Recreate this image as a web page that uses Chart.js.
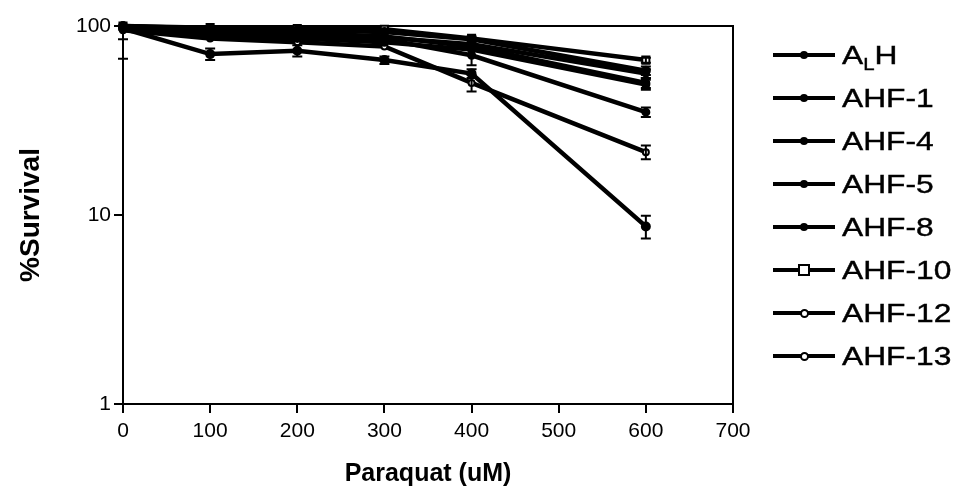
<!DOCTYPE html>
<html lang="en">
<head>
    <meta charset="UTF-8">
    <title>Paraquat survival</title>
    <script src="https://cdn.jsdelivr.net/npm/chart.js"></script>
    <style>
        body {
            margin: 0;
            background: #ffffff;
            font-family: "Liberation Sans", Arial, sans-serif;
        }

        #wrap {
            position: relative;
            width: 960px;
            height: 497px;
        }

        /* legend on the right */
        #legend {
            position: absolute;
            left: 773px;
            top: 37px;
        }

        .row {
            position: relative;
            height: 43px;
            line-height: 36px;
            font-size: 25px;
            color: #000;
        }

        .row .seg {
            position: absolute;
            left: 0;
            top: 16px;
            width: 62px;
            height: 4px;
            background: #000;
        }

        .row .mk {
            position: absolute;
            left: 27px;
            top: 14px;
            width: 8px;
            height: 8px;
            border-radius: 50%;
            background: #000;
        }

        .row .mk.sq {
            left: 25px;
            top: 12px;
            width: 8px;
            height: 8px;
            border-radius: 0;
            background: #fff;
            border: 2px solid #000;
        }

        .row .mk.oc {
            left: 27px;
            top: 14px;
            width: 5px;
            height: 5px;
            background: #fff;
            border: 2px solid #000;
        }

        .row .txt {
            position: absolute;
            left: 69px;
            top: 0;
            white-space: nowrap;
            transform: scaleX(1.27);
            transform-origin: left center;
            -webkit-text-stroke: 0.4px #000;
        }

        sub {
            font-size: 16px;
            vertical-align: -6px;
        }
    </style>
</head>
<body>
<div id="wrap">
    <canvas id="chart" width="960" height="497"></canvas>
    <div id="legend"></div>
</div>

<script>
    // paraquat concentrations (uM)
    const doses = [0, 100, 200, 300, 400, 600];
    const yTicks = [1, 10, 100];

    const seriesNames = ['A<sub>L</sub>H', 'AHF-1', 'AHF-4', 'AHF-5', 'AHF-8', 'AHF-10', 'AHF-12', 'AHF-13'];

    // % survival
    const alh   = [100, 97, 95, 93, 85, 58];
    const ahf1  = [100, 95, 92, 88, 78, 50];
    const ahf4  = [98, 90, 88, 85, 70, 35];
    const ahf5  = [97, 88, 86, 82, 75, 49];
    const ahf8  = [97, 71, 74, 66, 56, 8.7];
    const ahf10 = [100, 98, 97, 96, 86, 66];
    const ahf12 = [97, 92, 90, 87, 80, 56];
    const ahf13 = [95, 86, 82, 78, 50, 21.5];

    // error bars (+/-)
    const alhErr   = [0, 0, 0, 0, 3, 3];
    const ahf1Err  = [0, 0, 0, 0, 0, 3];
    const ahf4Err  = [0, 0, 0, 0, 8, 2];
    const ahf5Err  = [12, 0, 0, 0, 0, 3];
    const ahf8Err  = [0, 5, 5, 3, 3, 1.2];
    const ahf10Err = [0, 0, 0, 0, 0, 2];
    const ahf12Err = [0, 0, 0, 0, 0, 3];
    const ahf13Err = [28, 0, 0, 0, 5, 1.8];

    const values = [alh, ahf1, ahf4, ahf5, ahf8, ahf10, ahf12, ahf13];
    const errors = [alhErr, ahf1Err, ahf4Err, ahf5Err, ahf8Err, ahf10Err, ahf12Err, ahf13Err];
    const markers = ['circle', 'circle', 'circle', 'circle', 'circle', 'rect', 'circle', 'circle'];
    const markerFill = ['#000', '#000', '#000', '#000', '#000', '#fff', '#fff', '#fff'];
    const markerSize = [4, 3.5, 3.5, 3.5, 4, 5, 3, 3];

    const datasets = values.map((vals, i) => ({
        label: seriesNames[i],
        data: vals.map((v, j) => ({ x: doses[j], y: v })),
        errors: errors[i],
        borderColor: '#000',
        borderWidth: 4.5,
        pointStyle: markers[i],
        pointRadius: markerSize[i],
        pointBackgroundColor: markerFill[i],
        pointBorderColor: '#000',
        pointBorderWidth: 2,
        clip: false,
        tension: 0
    }));

    // error bars drawn with the chart's own scales
    const errorBars = {
        id: 'errorBars',
        afterDatasetsDraw(chart) {
            const ctx = chart.ctx;
            const xs = chart.scales.x, ys = chart.scales.y;
            const top = chart.chartArea.top;
            ctx.save();
            ctx.strokeStyle = '#000';
            ctx.lineWidth = 2;
            chart.data.datasets.forEach(ds => {
                ds.data.forEach((p, j) => {
                    const e = ds.errors[j];
                    if (!e) return;
                    const x = xs.getPixelForValue(p.x);
                    const yHi = Math.max(top, ys.getPixelForValue(p.y + e));
                    const yLo = ys.getPixelForValue(p.y - e);
                    ctx.beginPath();
                    ctx.moveTo(x, yHi);
                    ctx.lineTo(x, yLo);
                    ctx.moveTo(x - 5, yLo);
                    ctx.lineTo(x + 5, yLo);
                    if (yHi > top) {
                        ctx.moveTo(x - 5, yHi);
                        ctx.lineTo(x + 5, yHi);
                    }
                    ctx.stroke();
                });
            });
            ctx.restore();
        }
    };

    // box around the plot
    const frame = {
        id: 'frame',
        beforeDatasetsDraw(chart) {
            const a = chart.chartArea, ctx = chart.ctx;
            ctx.save();
            ctx.strokeStyle = '#000';
            ctx.lineWidth = 2;
            ctx.strokeRect(a.left, a.top, a.right - a.left, a.bottom - a.top);
            ctx.restore();
        }
    };

    new Chart(document.getElementById('chart'), {
        type: 'line',
        data: { datasets: datasets },
        options: {
            responsive: false,
            animation: false,
            layout: { padding: { left: 10, right: 227, top: 26, bottom: 4 } },
            plugins: {
                legend: { display: false },
                tooltip: { enabled: false }
            },
            scales: {
                x: {
                    type: 'linear',
                    min: 0,
                    max: 700,
                    ticks: {
                        stepSize: 100,
                        color: '#000',
                        padding: 6,
                        font: { family: 'Liberation Sans', size: 21 }
                    },
                    grid: { drawOnChartArea: false, color: '#000', lineWidth: 2, tickLength: 9 },
                    border: { color: '#000', width: 2 },
                    title: {
                        display: true,
                        text: 'Paraquat (uM)',
                        color: '#000',
                        padding: { top: 12 },
                        font: { family: 'Liberation Sans', size: 25, weight: 'bold' }
                    },
                    afterFit(s) { s.height = 89; }
                },
                y: {
                    type: 'logarithmic',
                    min: 1,
                    max: 100,
                    afterBuildTicks(s) { s.ticks = yTicks.map(v => ({ value: v })); },
                    ticks: {
                        color: '#000',
                        padding: 3,
                        callback: v => String(v),
                        font: { family: 'Liberation Sans', size: 21 }
                    },
                    grid: { drawOnChartArea: false, color: '#000', lineWidth: 2, tickLength: 9 },
                    border: { color: '#000', width: 2 },
                    title: {
                        display: true,
                        text: '%Survival',
                        color: '#000',
                        padding: { bottom: 16 },
                        font: { family: 'Liberation Sans', size: 28, weight: 'bold' }
                    },
                    afterFit(s) { s.width = 113; }
                }
            }
        },
        plugins: [frame, errorBars]
    });

    // legend rows
    const legend = document.getElementById('legend');
    seriesNames.forEach((name, i) => {
        const row = document.createElement('div');
        row.className = 'row';
        let cls = 'mk';
        if (markers[i] === 'rect') cls += ' sq';
        else if (markerFill[i] === '#fff') cls += ' oc';
        row.innerHTML = '<div class="seg"></div><div class="' + cls + '"></div><div class="txt">' + name + '</div>';
        legend.appendChild(row);
    });
</script>
</body>
</html>
